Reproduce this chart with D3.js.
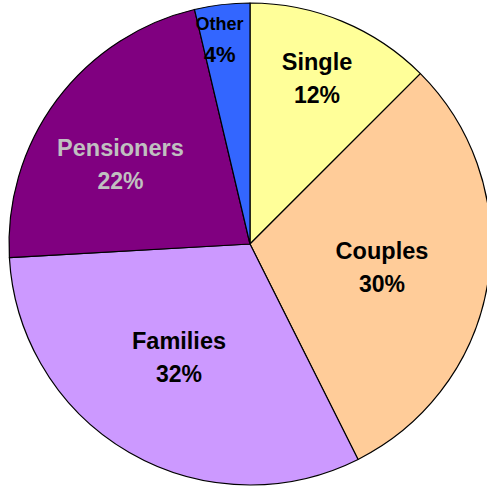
<!DOCTYPE html>
<html>
<head>
    <style>
        body { margin: 0; background: #fff; }
        svg { display: block; }
    </style>
</head>
<body>
    <svg id="chart" width="487" height="486"></svg>

    <script src="https://d3js.org/d3.v7.min.js"></script>
    <script>
        // slices, clockwise from 12 o'clock (shares)
        const categories = ['Single', 'Couples', 'Families', 'Pensioners', 'Other'];
        const shares = [12.5, 30.1, 31.5, 22.2, 3.7];
        const percentLabels = ['12%', '30%', '32%', '22%', '4%'];

        const colors = ['#ffff99', '#ffcc99', '#cc99ff', '#800080', '#3366ff'];
        const textColors = ['#000', '#000', '#000', '#c0c0c0', '#000'];
        // where each label block sits: angle (deg, clockwise from top) and radius
        const labelAngle = [22, 100, 212, 301.5, 351.5];
        const labelRadius = [179, 134, 134, 152, 206];

        const cx = 250, cy = 244, radius = 241;

        const svg = d3.select('#chart');
        const g = svg.append('g').attr('transform', `translate(${cx},${cy})`);

        const pie = d3.pie().sort(null).value(d => d.value);
        const arcs = pie(categories.map((c, i) => ({ name: c, value: shares[i], i: i })));

        const arc = d3.arc().innerRadius(0).outerRadius(radius);

        g.selectAll('path')
            .data(arcs)
            .join('path')
            .attr('d', arc)
            .attr('fill', d => colors[d.data.i])
            .attr('stroke', '#000')
            .attr('stroke-width', 1.2)
            .attr('stroke-linejoin', 'round');

        const labels = g.selectAll('g.lbl')
            .data(arcs)
            .join('g')
            .attr('class', 'lbl')
            .attr('transform', d => {
                const p = d3.pointRadial(labelAngle[d.data.i] * Math.PI / 180, labelRadius[d.data.i]);
                return `translate(${p[0]},${p[1]})`;
            })
            .attr('font-family', 'Liberation Sans, Arial, sans-serif')
            .attr('font-weight', 'bold')
            .attr('text-anchor', 'middle')
            .attr('fill', d => textColors[d.data.i]);

        const small = d => d.data.i === 4;

        labels.append('text')
            .attr('y', d => small(d) ? -10 : -8.5)
            .attr('font-size', d => small(d) ? 18 : 23.5)
            .text(d => d.data.name);

        labels.append('text')
            .attr('y', d => small(d) ? 22 : 24.5)
            .attr('font-size', d => small(d) ? 22 : 23)
            .text(d => percentLabels[d.data.i]);
    </script>
</body>
</html>
